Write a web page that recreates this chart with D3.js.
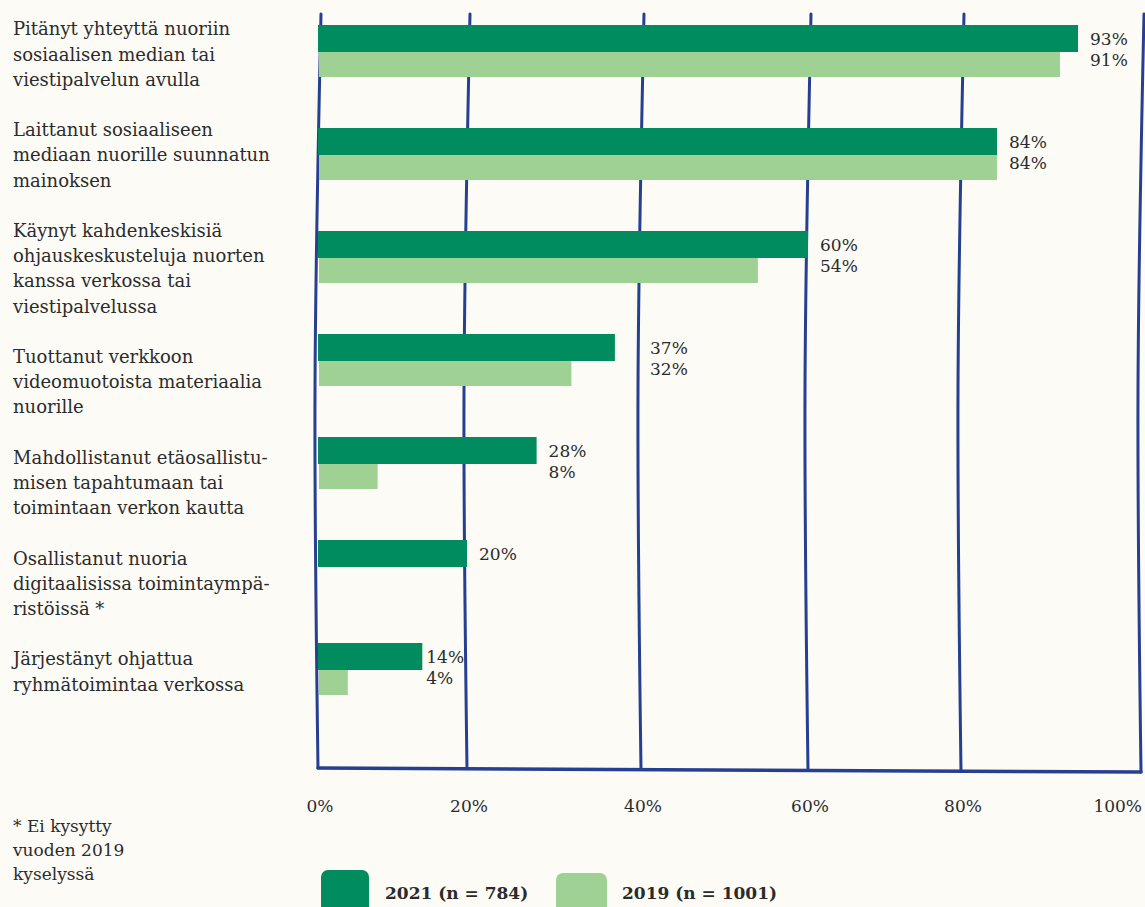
<!DOCTYPE html>
<html>
<head>
<meta charset="utf-8">
<script src="https://cdn.jsdelivr.net/npm/d3@7"></script>
<style>
  body { margin: 0; background: #fcfbf6; }
  svg { display: block; }
  text { font-family: "DejaVu Serif", serif; fill: #2b2b2b; }
</style>
</head>
<body>
<div id="chart"></div>
<script>
// category labels, already broken into lines like the original
var categories = [
  ["Pitänyt yhteyttä nuoriin", "sosiaalisen median tai", "viestipalvelun avulla"],
  ["Laittanut sosiaaliseen", "mediaan nuorille suunnatun", "mainoksen"],
  ["Käynyt kahdenkeskisiä", "ohjauskeskusteluja nuorten", "kanssa verkossa tai", "viestipalvelussa"],
  ["Tuottanut verkkoon", "videomuotoista materiaalia", "nuorille"],
  ["Mahdollistanut etäosallistu-", "misen tapahtumaan tai", "toimintaan verkon kautta"],
  ["Osallistanut nuoria", "digitaalisissa toimintaympä-", "ristöissä *"],
  ["Järjestänyt ohjattua", "ryhmätoimintaa verkossa"]
];
var values2021 = [93, 84, 60, 37, 28, 20, 14];
var values2019 = [91, 84, 54, 32, 8, null, 4];
var xTicks = [0, 20, 40, 60, 80, 100];
var seriesNames = ["2021 (n = 784)", "2019 (n = 1001)"];
var footnote = ["* Ei kysytty", "vuoden 2019", "kyselyssä"];

var W = 1145, H = 907;
var dark = "#008c5e", light = "#9ed193", blue = "#263f91";

var svg = d3.select("#chart").append("svg")
  .attr("width", W)
  .attr("height", H);

// hand drawn axis: gridlines are not evenly spaced in the original
var x = d3.scaleLinear()
  .domain(xTicks)
  .range([318, 467, 641, 808, 961, 1141]);

var y = d3.scalePoint()
  .domain(d3.range(categories.length))
  .range([25, 643]);

var darkH = 27, lightH = 25;
var gridTop = 14;
function baseY(px) { return 768 + 4 * (px - 318) / (1141 - 318); }

// gridlines, slightly bowed like the sketch
var line = d3.line().curve(d3.curveNatural);
svg.selectAll(".grid")
  .data(xTicks)
  .enter().append("path")
  .attr("class", "grid")
  .attr("d", function (t) {
    var px = x(t);
    return line([[px + 3, gridTop], [px - 3, 390], [px, baseY(px)]]);
  })
  .attr("fill", "none")
  .attr("stroke", blue)
  .attr("stroke-width", 3)
  .attr("stroke-linecap", "round");

// bars
var bars = svg.append("g");
bars.selectAll(".b21")
  .data(values2021)
  .enter().append("rect")
  .attr("class", "b21")
  .attr("x", x(0))
  .attr("y", function (d, i) { return y(i); })
  .attr("width", function (d) { return x(d) - x(0); })
  .attr("height", darkH)
  .attr("fill", dark);

// 2019 has no value for the sixth question
bars.selectAll(".b19")
  .data(values2019)
  .enter().append("rect")
  .attr("class", "b19")
  .attr("x", x(0) + 1)
  .attr("y", function (d, i) { return y(i) + darkH; })
  .attr("width", function (d) { return d == null ? 0 : x(d) - x(0) - 1; })
  .attr("height", lightH)
  .attr("fill", light);

// baseline
svg.append("line")
  .attr("x1", x(0)).attr("y1", baseY(x(0)))
  .attr("x2", x(100)).attr("y2", baseY(x(100)))
  .attr("stroke", blue)
  .attr("stroke-width", 3.5)
  .attr("stroke-linecap", "round");

// value labels: keep them off the gridlines
var labelW = 35;
function hitsGrid(lx) {
  return xTicks.some(function (t) {
    var gx = x(t) - 3;
    return gx > lx - 3 && gx < lx + labelW;
  });
}
var vals = svg.append("g");
values2021.forEach(function (v, i) {
  var v2 = values2019[i];
  var end = x(Math.max(v, v2 == null ? 0 : v2));
  var lx = end + 12;
  if (hitsGrid(lx)) lx = end + 4;
  if (hitsGrid(lx)) {
    xTicks.forEach(function (t) {
      var gx = x(t) - 3;
      if (gx > lx - 3 && gx < lx + labelW) lx = gx + 12;
    });
  }
  vals.append("text")
    .attr("x", lx)
    .attr("y", y(i) + 14)
    .attr("dy", "0.35em")
    .style("font-size", "17px")
    .text(v + "%");
  if (v2 != null)
    vals.append("text")
      .attr("x", lx)
      .attr("y", y(i) + 35)
      .attr("dy", "0.35em")
      .style("font-size", "17px")
      .text(v2 + "%");
});

// category labels flow down the left side
var lineH = 25.2;
var cy = 29;
categories.forEach(function (lines) {
  var t = svg.append("text")
    .style("font-size", "18px");
  lines.forEach(function (s, j) {
    t.append("tspan")
      .attr("x", 13)
      .attr("y", cy + j * lineH)
      .attr("dy", "0.35em")
      .text(s);
  });
  cy += (lines.length + 1) * lineH;
});

// x tick labels
svg.selectAll(".tick")
  .data(xTicks)
  .enter().append("text")
  .attr("class", "tick")
  .attr("x", function (t) { return t == 100 ? x(t) + 1 : x(t) + 2; })
  .attr("y", 806)
  .attr("dy", "0.35em")
  .attr("text-anchor", function (t) { return t == 100 ? "end" : "middle"; })
  .style("font-size", "17px")
  .text(function (t) { return t + "%"; });

// footnote
var fn = svg.append("text").style("font-size", "17px");
footnote.forEach(function (s, j) {
  fn.append("tspan")
    .attr("x", 13)
    .attr("y", 826 + j * 24)
    .attr("dy", "0.35em")
    .text(s);
});

// legend
var legend = [
  { name: seriesNames[0], color: dark, sx: 321, sy: 870, sw: 48, tx: 385 },
  { name: seriesNames[1], color: light, sx: 556, sy: 873, sw: 51, tx: 622 }
];
legend.forEach(function (l) {
  svg.append("rect")
    .attr("x", l.sx).attr("y", l.sy)
    .attr("width", l.sw).attr("height", 48)
    .attr("rx", 7)
    .attr("fill", l.color);
  svg.append("text")
    .attr("x", l.tx).attr("y", 893)
    .attr("dy", "0.35em")
    .style("font-size", "17px")
    .style("font-weight", "bold")
    .text(l.name);
});
</script>
</body>
</html>
